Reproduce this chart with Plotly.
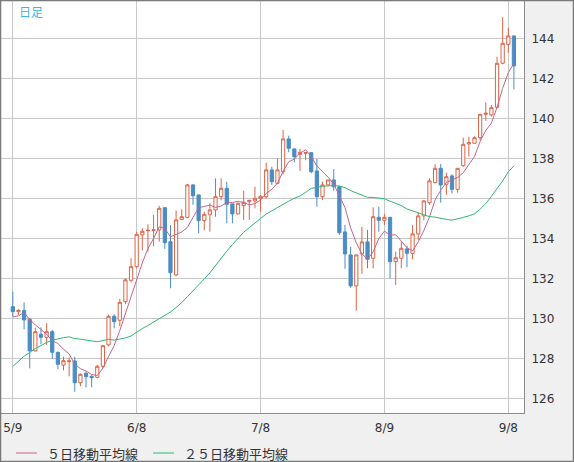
import pandas as pd
import plotly.graph_objects as go

# trading days shown (daily candles, weekdays)
dates = pd.bdate_range("2022-05-09", "2022-09-09")

opens = [130.58, 130.33, 130.40, 129.95, 128.37, 129.20, 129.05, 129.33, 128.30, 127.66,
         127.83, 127.87, 126.78, 127.25, 127.10, 127.05, 127.60, 128.67, 130.10, 129.90,
         130.83, 131.90, 132.58, 134.17, 134.38, 134.40, 134.42, 135.53, 133.83, 132.17,
         134.95, 135.05, 136.67, 136.17, 134.88, 135.20, 135.42, 136.08, 136.50, 135.72,
         135.22, 135.63, 135.83, 135.87, 136.00, 136.08, 137.42, 136.75, 137.33, 138.97,
         138.47, 138.20, 138.25, 138.28, 137.37, 136.08, 136.67, 136.92, 136.58, 134.32,
         133.17, 131.62, 133.22, 133.82, 133.00, 135.05, 134.90, 135.05, 132.83, 133.00,
         133.47, 133.25, 134.22, 135.12, 135.78, 136.78, 137.50, 136.70, 137.12, 136.45,
         137.63, 138.72, 138.75, 139.03, 140.20, 140.17, 140.55, 142.75, 143.70, 144.12]
highs = [131.33, 130.45, 130.80, 130.00, 129.53, 129.55, 129.75, 129.42, 128.33, 128.08,
         128.03, 128.08, 127.25, 127.33, 127.16, 127.67, 128.67, 130.18, 130.20, 130.97,
         132.00, 133.00, 134.33, 134.50, 134.70, 135.17, 135.62, 135.55, 134.67, 135.40,
         135.45, 136.72, 136.70, 136.17, 135.33, 135.75, 137.00, 137.00, 136.83, 135.72,
         135.78, 136.38, 135.92, 136.58, 136.15, 137.78, 137.58, 138.00, 139.42, 139.13,
         138.47, 138.47, 138.30, 138.30, 137.97, 136.83, 136.92, 137.46, 136.60, 134.67,
         133.58, 133.17, 134.58, 134.42, 135.55, 135.58, 135.22, 135.05, 133.33, 133.83,
         133.63, 134.67, 135.28, 135.92, 137.00, 137.70, 137.72, 137.28, 137.20, 137.50,
         139.03, 139.08, 139.10, 140.20, 140.80, 140.67, 143.08, 145.05, 144.53, 144.12]
lows = [130.08, 130.17, 129.45, 127.50, 128.35, 128.70, 128.67, 127.97, 127.45, 127.40,
        127.10, 126.33, 126.60, 126.55, 126.55, 127.00, 127.50, 128.60, 129.50, 129.60,
        130.70, 131.80, 132.50, 133.40, 133.33, 133.60, 133.83, 133.47, 131.50, 132.10,
        134.90, 135.00, 135.67, 134.25, 134.40, 134.33, 135.08, 135.90, 134.75, 134.75,
        135.20, 134.92, 134.92, 135.50, 135.33, 136.00, 136.67, 136.70, 137.20, 138.30,
        137.80, 137.37, 137.90, 137.25, 135.58, 135.92, 136.63, 136.38, 134.17, 132.47,
        131.53, 130.38, 132.22, 132.50, 132.50, 134.33, 134.67, 132.00, 131.67, 132.50,
        132.55, 132.95, 133.92, 134.90, 135.67, 136.75, 135.78, 136.17, 136.25, 136.28,
        137.58, 138.08, 138.75, 138.90, 139.87, 140.08, 140.50, 142.70, 143.28, 141.45]
closes = [130.33, 130.40, 129.92, 128.38, 129.33, 129.05, 129.33, 128.30, 127.70, 127.88,
          127.87, 126.78, 127.20, 127.08, 127.03, 127.60, 128.63, 130.10, 129.83, 130.80,
          131.92, 132.58, 134.20, 134.35, 134.40, 134.42, 135.50, 133.78, 132.28, 134.92,
          135.08, 136.67, 136.13, 134.88, 135.20, 135.42, 136.08, 136.50, 135.70, 135.22,
          135.75, 135.80, 135.90, 136.00, 136.10, 137.42, 136.83, 137.42, 138.97, 138.50,
          138.08, 138.30, 138.28, 137.33, 136.08, 136.67, 136.92, 136.58, 134.28, 133.22,
          131.62, 133.17, 133.82, 132.95, 135.08, 134.90, 135.05, 132.83, 133.03, 133.50,
          133.25, 134.22, 135.12, 135.87, 136.87, 137.50, 136.67, 137.08, 136.45, 137.50,
          138.70, 138.78, 139.03, 140.20, 140.25, 140.53, 142.75, 143.75, 144.12, 142.62]

# closes of the 24 days before the window (needed for the start of the averages)
prior_closes = [123.6, 123.8, 123.9, 124.3, 125.4, 125.4, 125.6, 125.9, 126.4, 126.9,
                128.9, 127.9, 128.4, 128.5, 128.1, 127.2, 128.4, 130.9, 129.8, 130.2,
                130.1, 129.1, 130.2, 130.6]

tick_days = ["2022-05-09", "2022-06-08", "2022-07-08", "2022-08-09", "2022-09-08"]
ma_names = ["５日移動平均線", "２５日移動平均線"]
ma_colors = ["#c4648f", "#2eb872"]

x = list(range(len(dates)))
all_close = pd.Series(prior_closes + closes)
ma5 = all_close.rolling(5).mean().iloc[len(prior_closes):].tolist()
ma25 = all_close.rolling(25).mean().iloc[len(prior_closes):].tolist()

tickvals = [dates.get_loc(pd.Timestamp(d)) for d in tick_days]
ticktext = [f"{pd.Timestamp(d).month}/{pd.Timestamp(d).day}" for d in tick_days]

red = "#dc6446"
blue = "#4a8cc4"

fig = go.Figure()
fig.add_trace(go.Candlestick(
    x=x, open=opens, high=highs, low=lows, close=closes,
    increasing=dict(line=dict(color=red, width=1), fillcolor="white"),
    decreasing=dict(line=dict(color=blue, width=1), fillcolor=blue),
    whiskerwidth=0, showlegend=False, hoverinfo="skip"))
for name, ys, col in zip(ma_names, [ma5, ma25], ma_colors):
    fig.add_trace(go.Scatter(x=x, y=ys, mode="lines", name=name,
                             line=dict(color=col, width=1), showlegend=False))

W, H = 574, 462
l, r, t, b = 1, 50, 1, 49
pw, ph = W - l - r, H - t - b

fig.update_layout(
    width=W, height=H,
    margin=dict(l=l, r=r, t=t, b=b, autoexpand=False),
    paper_bgcolor="#f0f0f0",
    plot_bgcolor="white",
    font=dict(family="DejaVu Sans", size=12, color="#333333"),
    showlegend=False,
    boxgap=0.18,
    xaxis_rangeslider_visible=False,
)

fig.update_xaxes(range=[-2.1, 90.79], tickvals=tickvals, ticktext=ticktext,
                 showgrid=True, gridcolor="#c8c8c8", gridwidth=1,
                 showline=True, mirror=True, linecolor="#8c8c8c",
                 zeroline=False, ticks="", ticklabelstandoff=4)
fig.update_yaxes(range=[125.265, 145.865], dtick=2, tick0=0, side="right",
                 showgrid=True, gridcolor="#c8c8c8", gridwidth=1,
                 showline=True, mirror=True, linecolor="#8c8c8c",
                 zeroline=False, ticks="", ticklabelstandoff=4)

fig.add_annotation(text="日足", xref="paper", yref="paper", x=16 / pw, y=1 - 11 / ph,
                   xanchor="left", yanchor="middle", showarrow=False,
                   font=dict(family="Noto Sans CJK JP", size=12, color="#3cb4e6"))

# legend drawn below the plot: short line sample followed by the name
leg_y = -40 / ph
for name, col, px0 in zip(ma_names, ma_colors, [16, 153]):
    fig.add_shape(type="line", xref="paper", yref="paper",
                  x0=(px0 - l) / pw, x1=(px0 + 21 - l) / pw, y0=leg_y, y1=leg_y,
                  line=dict(color=col, width=1))
    fig.add_annotation(text=name, xref="paper", yref="paper",
                       x=(px0 + 29 - l) / pw, y=leg_y, xanchor="left", yanchor="middle",
                       showarrow=False,
                       font=dict(family="Noto Sans CJK JP", size=13, color="#333333"))

# outer frame of the whole picture
fig.add_shape(type="rect", xref="paper", yref="paper",
              x0=-l / pw + 0.5 / pw, x1=(W - l - 0.5) / pw,
              y0=-(b - 0.5) / ph, y1=1 + (t - 0.5) / ph,
              line=dict(color="#7a7a7a", width=1.5), layer="above")

fig.write_html("out.html", config={"displayModeBar": False},
               post_script="document.body.style.margin = '0';")
